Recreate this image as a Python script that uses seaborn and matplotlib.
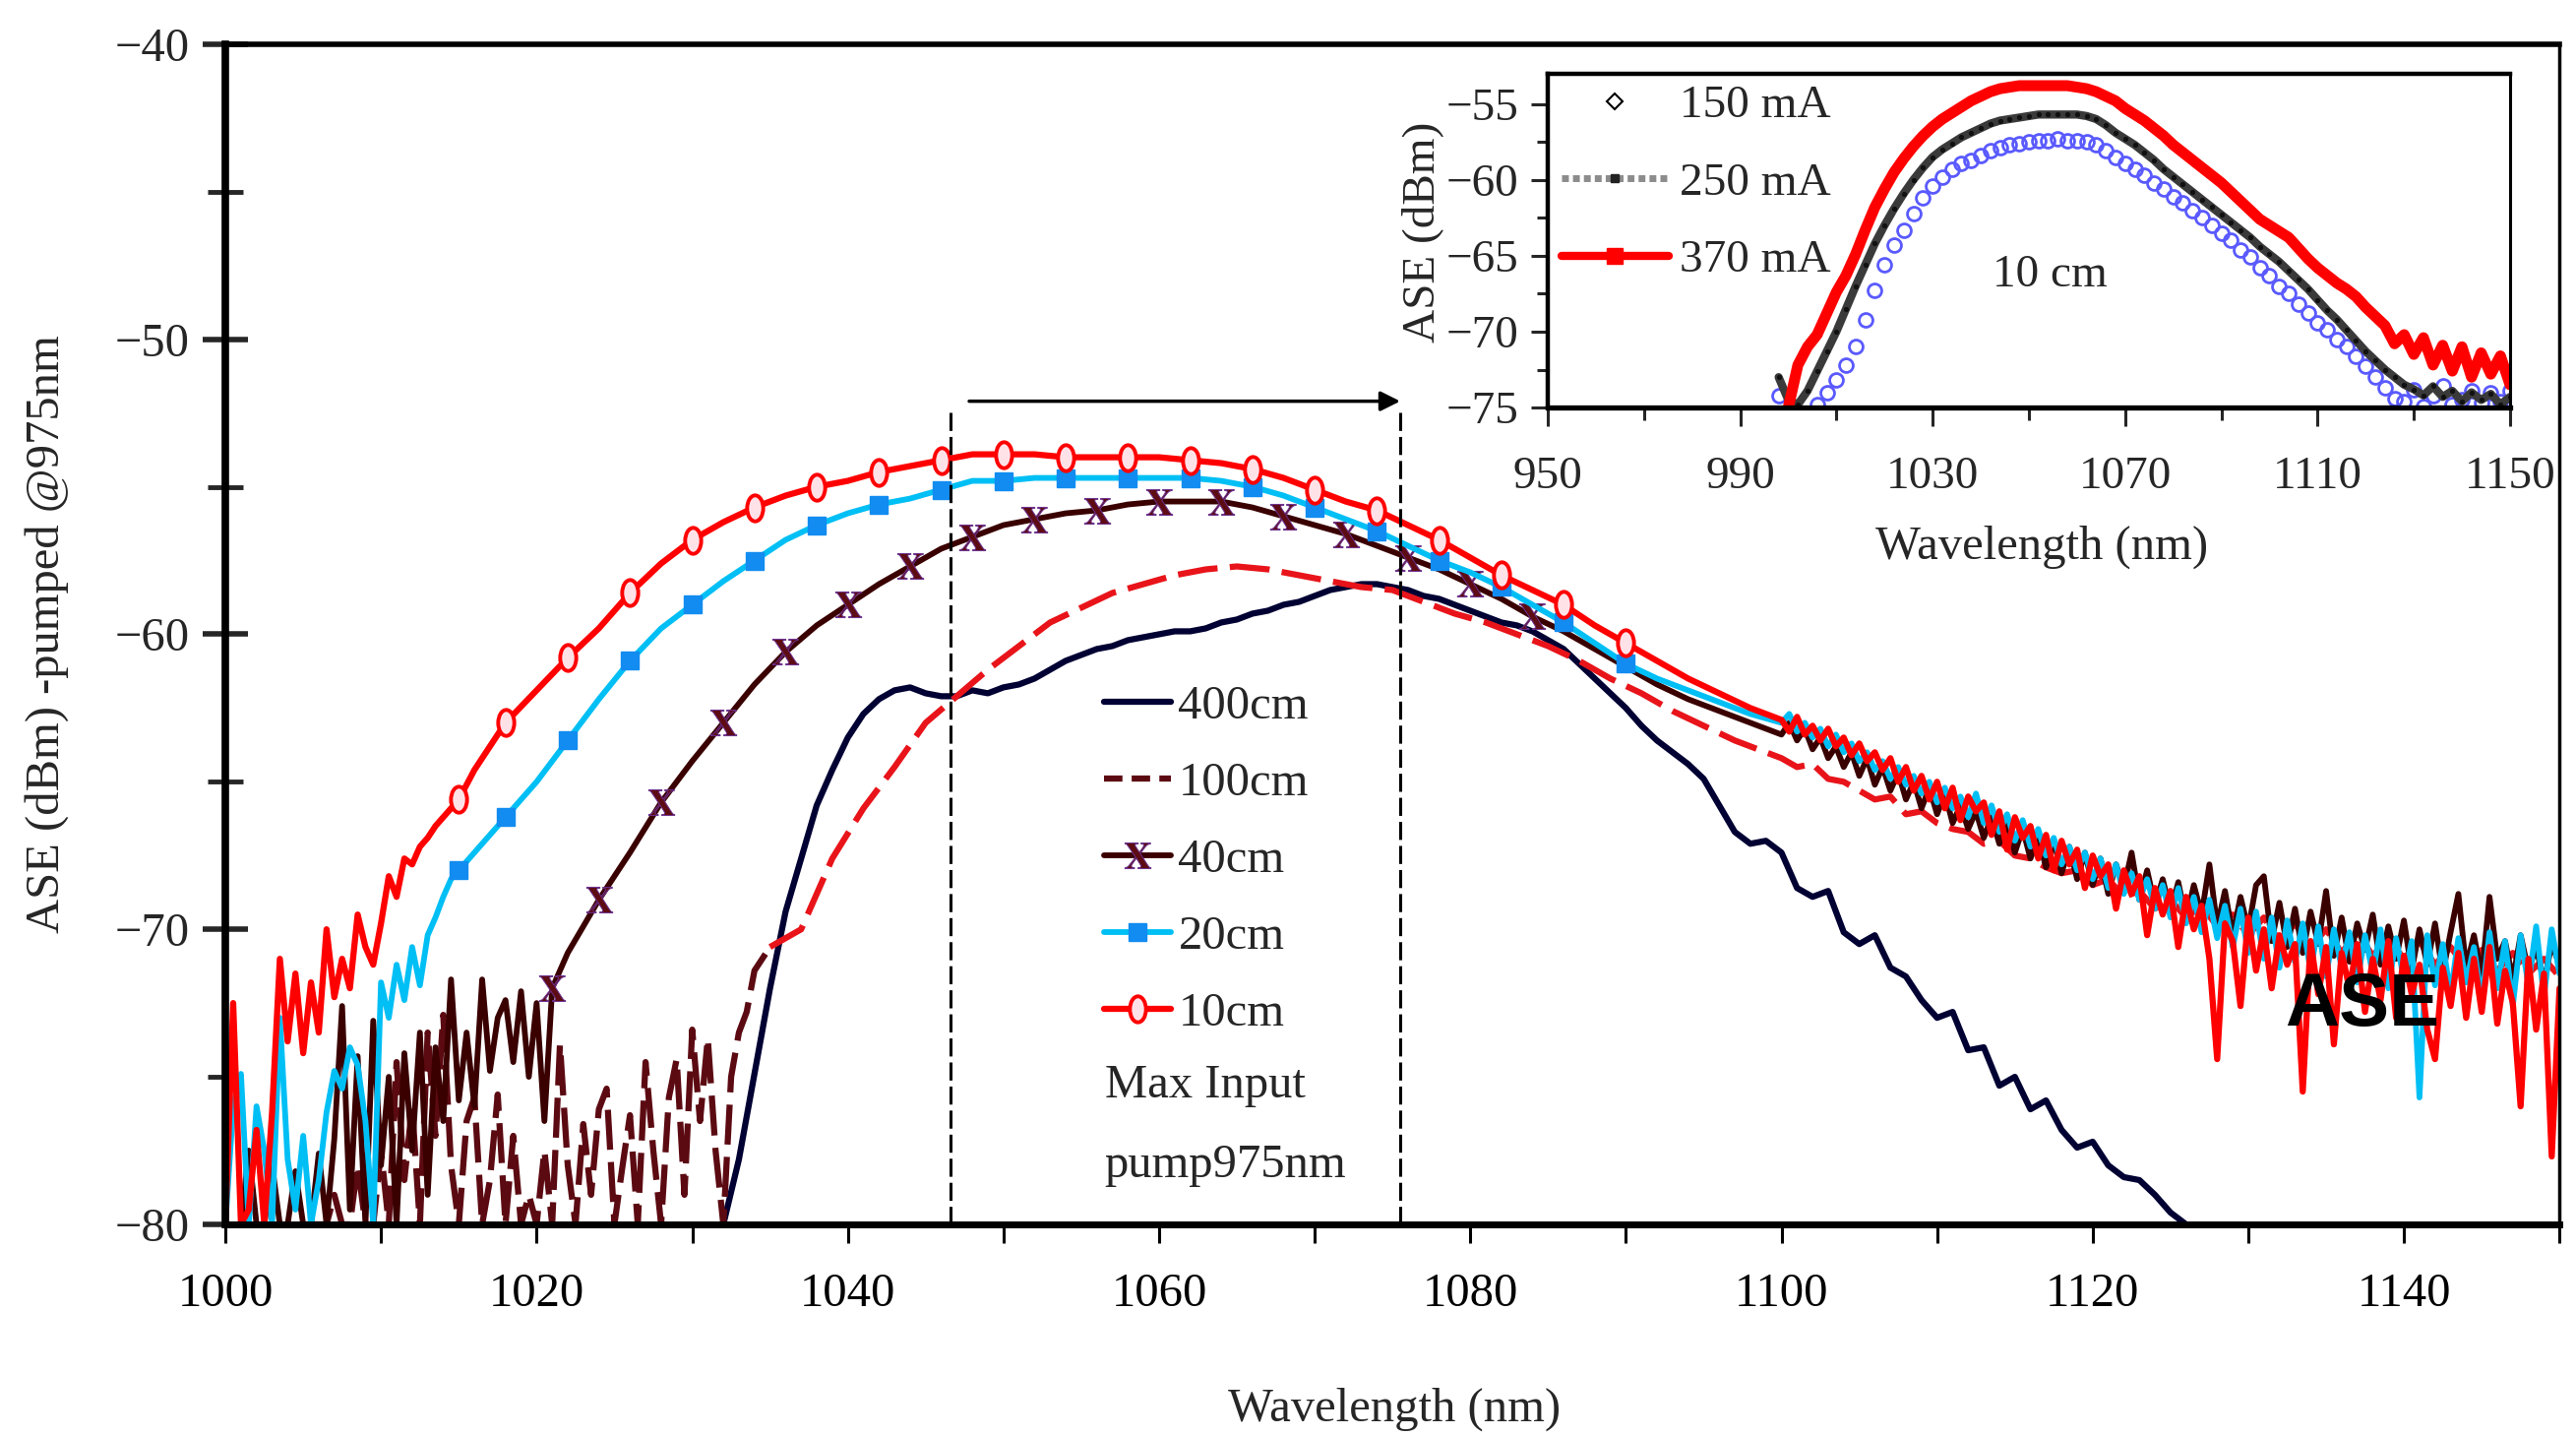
import numpy as np
import matplotlib
matplotlib.use("Agg")
import matplotlib.pyplot as plt
import seaborn as sns
from matplotlib.lines import Line2D
from matplotlib.path import Path
from matplotlib.transforms import Affine2D

# ---------------- main plot data (wavelength segments: start, step, values) ----------------
# 10 cm
r10_a = [-80, -72.5, -80, -79.5, -76.8, -80, -76.2, -71.0, -73.8, -71.5, -74.2, -71.8, -73.5, -70.0,
         -72.3, -71.0, -72.0, -69.5, -70.6, -71.2, -69.8, -68.2, -68.9, -67.6, -67.8, -67.2, -66.9,
         -66.5, -66.2, -65.9, -65.6]
r10_b = [-64.6, -63.0, -61.9, -60.8, -59.8, -58.6, -57.6, -56.8, -56.2, -55.7, -55.3, -55.0, -54.8,
         -54.5, -54.3, -54.1, -53.9, -53.9, -53.9, -54.0, -54.0, -54.0, -54.0, -54.1, -54.2, -54.4,
         -54.7, -55.1, -55.5, -55.8, -56.3, -56.8, -57.4, -58.0, -58.5, -59.0, -59.7, -60.3, -60.9,
         -61.5, -62.0, -62.5]
r10_c = [-62.9, -63.3, -62.8, -63.4, -63.1, -63.6, -63.2, -63.8, -63.5, -64.1, -63.7, -64.3, -64.0,
         -64.6, -64.2, -65.0, -64.5, -65.3, -64.8, -65.6, -65.0, -65.9, -65.2, -66.3, -65.5, -66.0,
         -65.7, -66.8, -66.0, -67.3, -66.2, -66.9, -66.5, -67.6, -66.8, -68.0, -67.0, -67.8, -67.3,
         -68.6, -67.5, -68.2, -67.8, -69.3, -68.0, -68.8, -68.2, -70.2, -68.6, -69.5, -68.7, -70.6,
         -68.9, -70.0, -69.2, -71.0, -74.4, -69.8, -70.4, -72.6, -69.6, -71.4, -70.0, -72.0, -70.2,
         -71.2, -70.5, -75.5, -70.4, -72.2, -70.6, -73.9, -70.8, -72.0, -70.5, -72.8, -71.0, -72.4,
         -70.4, -73.0, -70.9, -72.2, -71.2, -73.4, -74.4, -71.3, -72.6, -70.8, -73.0, -71.0, -72.8,
         -70.6, -73.2, -71.4, -72.5, -76.0, -71.0, -73.4, -71.5, -77.7, -72.0]

# 20 cm
r20_a = [-80, -76.0, -74.9, -80, -76.0, -77.5, -80, -73.0, -77.8, -79.5, -77.0, -80, -78.5, -76.2,
         -74.8, -75.4, -74.0, -74.6, -76.5, -80, -71.8, -73.0, -71.2, -72.4, -70.6, -71.9, -70.2,
         -69.6, -68.9, -68.3, -68.0]
r20_b = [-67.4, -66.2, -65.0, -63.6, -62.2, -60.9, -59.8, -59.0, -58.2, -57.5, -56.8, -56.3, -55.9,
         -55.6, -55.4, -55.1, -54.8, -54.8, -54.7, -54.7, -54.7, -54.7, -54.7, -54.7, -54.8, -55.0,
         -55.3, -55.7, -56.1, -56.5, -57.0, -57.5, -57.9, -58.4, -59.0, -59.6, -60.3, -61.0, -61.5,
         -61.9, -62.3, -62.7]
r20_c = [-63.0, -62.7, -63.3, -63.0, -63.5, -63.2, -63.8, -63.4, -64.0, -63.7, -64.3, -64.0, -64.6,
         -64.3, -64.9, -64.5, -65.1, -64.8, -65.4, -65.0, -65.7, -65.2, -65.9, -65.5, -66.2, -65.4,
         -66.4, -65.8, -66.7, -66.1, -67.0, -66.3, -67.2, -66.6, -67.5, -66.9, -67.8, -67.2, -68.0,
         -67.4, -68.3, -67.6, -68.6, -67.8, -68.8, -68.1, -69.0, -68.3, -69.3, -68.5, -69.6, -68.6,
         -69.8, -68.9, -70.1, -69.0, -70.3, -69.2, -70.6, -69.3, -70.8, -69.4, -71.0, -69.6, -71.3,
         -69.7, -71.1, -69.8, -71.4, -69.9, -71.6, -70.0, -71.3, -70.1, -71.8, -70.2, -71.5, -70.0,
         -72.0, -70.3, -71.7, -70.4, -75.7, -70.2, -71.9, -70.5, -72.2, -70.3, -71.8, -70.6, -72.4,
         -70.1, -72.0, -70.4, -72.6, -70.2, -71.9, -69.9, -72.3, -70.0, -71.5]

# 40 cm
r40_a = [-80, -80, -80, -77.5, -80, -80, -78.0, -80, -80, -78.2, -80, -80, -77.6, -80, -77.1, -72.6,
         -79.5, -74.3, -80, -73.1, -78.0, -75.0, -80, -74.2, -77.5, -73.5, -79.0, -74.0, -76.5,
         -71.7, -75.8, -73.5, -76.0, -71.7, -74.8, -73.0, -72.4, -74.5, -72.1, -75.0, -72.5, -76.5,
         -72.0]
r40_b = [-70.8, -69.0, -67.4, -65.7, -64.3, -63.0, -61.7, -60.6, -59.7, -59.0, -58.3, -57.7, -57.1,
         -56.7, -56.3, -56.1, -55.9, -55.8, -55.6, -55.5, -55.5, -55.5, -55.7, -56.0, -56.3, -56.6,
         -57.0, -57.4, -57.8, -58.3, -58.8, -59.4, -59.9, -60.5, -61.1, -61.7, -62.2, -62.6, -63.0]
r40_c = [-63.4, -63.0, -63.6, -63.2, -63.9, -63.5, -64.2, -63.8, -64.5, -64.0, -64.8, -64.2, -65.1,
         -64.5, -65.3, -64.7, -65.6, -65.0, -65.9, -65.2, -66.1, -65.4, -66.4, -65.8, -66.6, -66.0,
         -66.9, -66.2, -67.1, -66.4, -67.4, -66.6, -67.6, -66.9, -67.9, -67.0, -68.1, -67.2, -68.3,
         -67.4, -68.5, -67.6, -68.8, -67.8, -68.6, -67.4, -69.0, -68.0, -69.2, -68.3, -69.4, -68.4,
         -69.7, -68.5, -69.5, -67.8, -69.9, -68.7, -70.2, -68.9, -70.0, -68.5, -68.2, -70.4, -69.1,
         -70.6, -69.3, -70.8, -69.4, -70.5, -68.7, -70.9, -69.6, -71.1, -69.8, -70.7, -69.5, -71.2,
         -69.9, -71.0, -69.7, -71.4, -70.0, -71.2, -69.8, -71.5, -70.1, -68.8, -71.3, -70.2, -71.6,
         -68.9, -71.0, -70.4, -71.7, -70.2, -71.4, -70.6, -71.8, -70.5, -71.2]

# 100 cm
r100_a = [-80, -80, -80, -80, -79.0, -80, -80, -78.0, -80, -80, -77.5, -80, -74.5, -78.5, -76.0,
          -80, -73.5, -77.0, -72.9, -78.0, -80, -76.5, -75.7, -80, -78.5, -75.6, -80, -77.0, -80,
          -79.0, -80, -77.5, -80, -73.9, -78.0, -80, -76.6, -79.0, -76.1, -75.4, -80, -78.1, -76.3,
          -80, -74.5, -77.5, -80, -75.7, -74.4, -79.0, -73.4, -76.5, -73.7, -77.5, -80, -75.0,
          -73.5, -72.8, -71.4]
r100_b = [-70.6, -70.0, -67.6, -65.9, -64.5, -63.0, -62.1, -61.2, -60.4, -59.6, -59.1, -58.6, -58.3,
          -58.0, -57.8, -57.7, -57.8, -58.0, -58.2, -58.4, -58.5, -58.9, -59.3, -59.6, -60.0, -60.4,
          -60.9, -61.5, -62.0, -62.6, -63.1, -63.6, -64.0]
r100_c = [-64.2, -64.5, -64.4, -64.9, -65.0, -65.3, -65.6, -65.5, -66.1, -66.0, -66.4, -66.6, -66.7,
          -67.1, -67.0, -67.5, -67.6, -67.9, -68.1, -68.0, -68.5, -68.3, -68.9, -68.7, -69.3, -69.0,
          -69.6, -69.2, -69.9, -69.5, -70.2, -69.6, -70.4, -69.8, -70.6, -70.0, -70.8, -70.1, -70.9,
          -70.3, -71.0, -70.4, -71.2, -70.6, -71.3, -70.7, -71.4, -70.8, -71.5, -71.0, -71.6]

# 400 cm (1 nm steps from 1032 nm)
r400 = [-80.0, -77.8, -74.9, -72.0, -69.4, -67.6, -65.8, -64.6, -63.5, -62.7, -62.2, -61.9, -61.8,
        -62.0, -62.1, -62.1, -61.9, -62.0, -61.8, -61.7, -61.5, -61.2, -60.9, -60.7, -60.5, -60.4,
        -60.2, -60.1, -60.0, -59.9, -59.9, -59.8, -59.6, -59.5, -59.3, -59.2, -59.0, -58.9, -58.7,
        -58.5, -58.4, -58.3, -58.3, -58.4, -58.5, -58.7, -58.8, -59.0, -59.2, -59.4, -59.6, -59.7,
        -59.9, -60.2, -60.5, -61.0, -61.5, -62.0, -62.5, -63.1, -63.6, -64.0, -64.4, -64.9, -65.8,
        -66.7, -67.1, -67.0, -67.4, -68.6, -68.9, -68.7, -70.1, -70.5, -70.2, -71.3, -71.6, -72.4,
        -73.0, -72.8, -74.1, -74.0, -75.3, -75.0, -76.1, -75.8, -76.8, -77.4, -77.2, -78.0, -78.4,
        -78.5, -79.0, -79.6, -80.0]

# ---------------- inset data (10 cm fibre, pump current) ----------------
i150 = [-74.2, -75.5, -76, -75.8, -74.8, -74.0, -73.2, -72.2, -71.0, -69.2, -67.3, -65.6, -64.3,
        -63.3, -62.2, -61.2, -60.4, -59.8, -59.3, -58.9, -58.7, -58.4, -58.1, -57.9, -57.7, -57.6,
        -57.5, -57.4, -57.4, -57.3, -57.4, -57.4, -57.5, -57.7, -58.1, -58.5, -58.9, -59.3, -59.7,
        -60.2, -60.6, -61.1, -61.5, -62.0, -62.5, -63.0, -63.5, -64.0, -64.6, -65.1, -65.8, -66.3,
        -67.0, -67.5, -68.2, -68.8, -69.4, -69.9, -70.5, -71.0, -71.6, -72.3, -73.0, -73.7, -74.4,
        -74.6, -73.8, -74.9, -74.2, -73.6, -74.8, -74.5, -73.9, -74.7, -74.0, -74.6, -73.9]
i250 = [-73.0, -74.5, -74.8, -73.9, -72.6, -71.3, -70.0, -68.5, -67.0, -65.6, -64.2, -63.0, -61.9,
        -60.9, -60.0, -59.2, -58.5, -58.0, -57.6, -57.2, -56.9, -56.6, -56.3, -56.1, -56.0, -55.9,
        -55.8, -55.7, -55.7, -55.7, -55.7, -55.7, -55.8, -56.0, -56.4, -56.9, -57.3, -57.7, -58.2,
        -58.7, -59.3, -59.8, -60.3, -60.8, -61.3, -61.8, -62.3, -62.8, -63.3, -63.8, -64.4, -64.9,
        -65.4, -66.0, -66.6, -67.2, -67.9, -68.6, -69.2, -69.9, -70.6, -71.3, -71.9, -72.5, -73.0,
        -73.5, -73.8, -74.2, -73.6, -74.3, -73.9, -74.6, -74.0, -74.5, -74.1, -74.8, -74.3]
i370 = [-75.0, -72.2, -71.0, -70.2, -68.8, -67.4, -66.3, -64.9, -63.3, -61.8, -60.6, -59.5, -58.6,
        -57.8, -57.1, -56.5, -56.0, -55.6, -55.2, -54.8, -54.5, -54.2, -54.0, -53.9, -53.8, -53.8,
        -53.8, -53.8, -53.8, -53.8, -53.9, -54.0, -54.2, -54.5, -54.8, -55.3, -55.7, -56.1, -56.6,
        -57.1, -57.7, -58.2, -58.7, -59.2, -59.7, -60.2, -60.8, -61.4, -62.0, -62.6, -63.0, -63.4,
        -63.8, -64.5, -65.2, -65.8, -66.3, -66.8, -67.2, -67.7, -68.4, -69.0, -69.6, -70.8, -70.2,
        -71.5, -70.4, -72.2, -70.9, -72.6, -71.0, -73.0, -71.4, -72.8, -71.6, -73.5]

pump_window = [1046.6, 1075.5]   # dashed lines of the max-input window


def seg(start, step, values):
    return start + step * np.arange(len(values))


x10 = np.concatenate([seg(1000, 0.5, r10_a), seg(1016, 2, r10_b), seg(1100, 0.5, r10_c)])
y10 = np.array(r10_a + r10_b + r10_c)
x20 = np.concatenate([seg(1000, 0.5, r20_a), seg(1016, 2, r20_b), seg(1100, 0.5, r20_c)])
y20 = np.array(r20_a + r20_b + r20_c)
x40 = np.concatenate([seg(1000, 0.5, r40_a), seg(1022, 2, r40_b), seg(1100, 0.5, r40_c)])
y40 = np.array(r40_a + r40_b + r40_c)
x100 = np.concatenate([seg(1005, 0.5, r100_a), seg(1035, 2, r100_b), seg(1100, 1, r100_c)])
y100 = np.array(r100_a + r100_b + r100_c)
x400 = seg(1032, 1, r400)
y400 = np.array(r400)

# ---------------- style ----------------
sns.set_theme(style="white")
plt.rcParams["font.family"] = ["Liberation Serif", "DejaVu Serif"]
plt.rcParams["mathtext.fontset"] = "stix"

C400, C100D, C100, C40, C20, C20M, C10 = "#000033", "#5c0a12", "#e8141a", "#3a0000", "#00bff5", "#128cf0", "#ff0000"
XMARK = r"$\mathbf{X}$"
XM = dict(mfc="#5e0c14", mec="#6a3090", mew=0.7)
oval = Path.unit_circle().transformed(Affine2D().scale(0.62, 1.0))

fig = plt.figure(figsize=(26.18, 14.59), dpi=100)
ax = fig.add_axes([0.0875, 0.1474, 0.9061, 0.8218])

common = dict(ax=ax, estimator=None, sort=False, legend=False)
sns.lineplot(x=x400, y=y400, color=C400, linewidth=4.5, **common)
n_a = len(r100_a)
sns.lineplot(x=x100[:n_a + 1], y=y100[:n_a + 1], color=C100D, linewidth=4.5,
             linestyle=(0, (6.5, 2)), **common)
sns.lineplot(x=x100[n_a:], y=y100[n_a:], color=C100, linewidth=4.5,
             linestyle=(0, (6.5, 2)), **common)
sns.lineplot(x=x40, y=y40, color=C40, linewidth=4.2, marker=XMARK, markersize=19,
             markevery=slice(42, 76, 2), markerfacecolor=XM["mfc"], markeredgecolor=XM["mec"],
             markeredgewidth=XM["mew"], **common)
sns.lineplot(x=x20, y=y20, color=C20, linewidth=4.2, marker="s", markersize=13,
             markevery=slice(30, 70, 2), markerfacecolor=C20M, markeredgecolor=C20M,
             markeredgewidth=1, **common)
sns.lineplot(x=x10, y=y10, color=C10, linewidth=4.5, marker=oval, markersize=19,
             markevery=slice(30, 70, 2), markerfacecolor="#ffe2e8", markeredgecolor=C10,
             markeredgewidth=2.8, **common)

ax.vlines(pump_window, -80, -52.4, colors="black", linestyles=(0, (6, 2)), linewidth=2.2, zorder=3)
ax.annotate("", xy=(pump_window[1], -52.1), xytext=(1047.8, -52.1),
            arrowprops=dict(arrowstyle="-|>", color="black", lw=2.5, mutation_scale=30,
                            shrinkA=0, shrinkB=0))

ax.set_xlim(1000, 1150)
ax.set_ylim(-80, -40)
ax.set_xticks(np.arange(1000, 1141, 20))
ax.set_xticks(np.arange(1010, 1151, 10), minor=True)
ax.set_yticks(np.arange(-80, -39, 10))
ax.set_yticks(np.arange(-75, -40, 10), minor=True)
ax.tick_params(axis="x", which="both", direction="out", length=14, width=2.2, pad=21,
               labelsize=35, bottom=True, top=False, colors="black")
ax.tick_params(axis="y", which="major", direction="inout", length=33, width=4, pad=10,
               labelsize=35, left=True, right=False)
ax.tick_params(axis="y", which="minor", direction="inout", length=26, width=3.5, left=True)
for side, w in [("left", 5.5), ("bottom", 5.0), ("top", 4.0), ("right", 2.5)]:
    ax.spines[side].set_color("black")
    ax.spines[side].set_linewidth(w)

ax.set_xlabel("Wavelength (nm)", fontsize=35)
ax.set_ylabel("ASE (dBm) -pumped @975nm", fontsize=35)
ax.xaxis.set_label_coords(0.501, -0.138)
ax.yaxis.set_label_coords(-0.067, 0.5)

handles = [
    Line2D([], [], color=C400, lw=4.5),
    Line2D([], [], color=C100D, lw=4.5, linestyle=(0, (3, 1.5))),
    Line2D([], [], color=C40, lw=4.2, marker=XMARK, ms=19, **XM),
    Line2D([], [], color=C20, lw=4.2, marker="s", ms=13, mfc=C20M, mec=C20M),
    Line2D([], [], color=C10, lw=4.5, marker=oval, ms=19, mfc="#ffe2e8", mec=C10, mew=2.8),
]
ax.legend(handles, ["400cm", "100cm", "40cm", "20cm", "10cm"], loc="upper left",
          bbox_to_anchor=(0.4286, 0.523), bbox_transform=fig.transFigure, frameon=False,
          fontsize=35, handlelength=1.4, handletextpad=0.15, labelspacing=0.70,
          borderpad=0, borderaxespad=0, numpoints=1)
ax.text(1056.5, -75.3, "Max Input", fontsize=35, ha="left", va="center")
ax.text(1056.5, -78.0, "pump975nm", fontsize=35, ha="left", va="center")
ax.text(1137.3, -72.6, "ASE", fontsize=55, fontweight="bold", family="Liberation Sans",
        color="black", ha="center", va="center", zorder=5)

# ---------------- inset ----------------
axin = fig.add_axes([0.6008, 0.7162, 0.3736, 0.2326])
xi150 = seg(998, 2, i150)
xi250 = seg(998, 2, i250)
xi370 = seg(1000, 2, i370)
icommon = dict(ax=axin, estimator=None, sort=False, legend=False)
sns.lineplot(x=xi150, y=i150, color="#5a5aff", linestyle="none", marker="o", markersize=10,
             markerfacecolor="none", markeredgecolor="#5a5aff", markeredgewidth=2, **icommon)
sns.lineplot(x=xi250, y=i250, color="#3a3a3a", linewidth=6, marker=".", markersize=6,
             markerfacecolor="#111111", markeredgecolor="#111111", **icommon)
sns.lineplot(x=xi370, y=i370, color="#ff0000", linewidth=8, **icommon)

axin.set_xlim(950, 1150)
axin.set_ylim(-75, -53)
axin.set_xticks(np.arange(950, 1151, 40))
axin.set_xticks(np.arange(970, 1150, 40), minor=True)
axin.set_yticks(np.arange(-75, -54, 5))
axin.set_yticks(np.arange(-72.5, -54, 5), minor=True)
axin.tick_params(axis="x", which="major", direction="out", length=13.5, width=2.2, pad=22,
                 labelsize=34, bottom=True)
axin.tick_params(axis="x", which="minor", direction="out", length=9.5, width=2.2, bottom=True)
axin.tick_params(axis="y", which="major", direction="out", length=12, width=2.2, pad=9,
                 labelsize=34, left=True)
axin.tick_params(axis="y", which="minor", direction="out", length=8, width=2.2, left=True)
for side, w in [("left", 3.2), ("bottom", 3.8), ("top", 3.2), ("right", 2.2)]:
    axin.spines[side].set_color("black")
    axin.spines[side].set_linewidth(w)
axin.set_xlabel("Wavelength (nm)", fontsize=35)
axin.set_ylabel("ASE (dBm)", fontsize=34)
axin.xaxis.set_label_coords(0.513, -0.351)
axin.yaxis.set_label_coords(-0.108, 0.524)
axin.text(1054.4, -66.3, "10 cm", fontsize=34, ha="center", va="center")

ihandles = [
    Line2D([], [], linestyle="none", marker="D", ms=8, mfc="none", mec="black", mew=1.5),
    Line2D([], [], color="#8c8c8c", lw=5, linestyle=(0, (1, 0.6)), marker="s", ms=6,
           mfc="#222222", mec="#222222"),
    Line2D([], [], color="#ff0000", lw=6, marker="s", ms=12, mfc="#ff0000", mec="#ff0000"),
]
axin.legend(ihandles, ["150 mA", "250 mA", "370 mA"], loc="upper left",
            bbox_to_anchor=(0.6062, 0.941), bbox_transform=fig.transFigure, frameon=False,
            fontsize=34, handlelength=2.3, handletextpad=0.25, labelspacing=0.75,
            borderpad=0, borderaxespad=0, numpoints=1)

fig.savefig("out.png", dpi=100)
